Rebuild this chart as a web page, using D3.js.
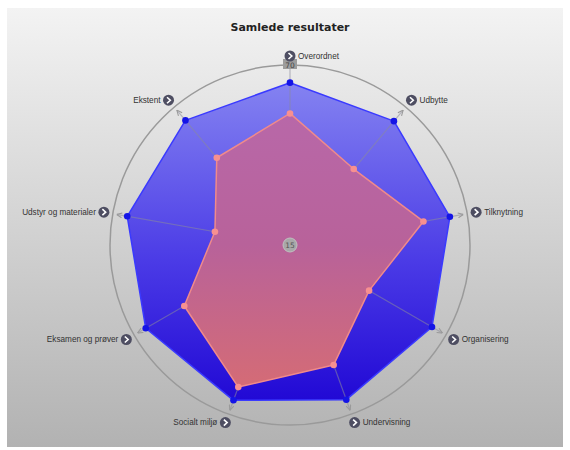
<!DOCTYPE html>
<html><head><meta charset="utf-8">
<script src="https://cdn.jsdelivr.net/npm/d3@7/dist/d3.min.js"></script>
<style>body{margin:0;background:#fff}svg{display:block}</style>
</head><body>
<svg id="c" width="570" height="450"></svg>
<script>
const categories = ["Overordnet","Udbytte","Tilknytning","Organisering","Undervisning","Socialt miljø","Eksamen og prøver","Udstyr og materialer","Ekstent"];
const seriesA = [64.6, 64.4, 64.6, 65.1, 65.3, 65.5, 65.9, 65.5, 64.7];
const seriesB = [55.2, 45.3, 56.4, 42.9, 54.0, 61.2, 52.3, 38.3, 49.8];
const scaleMin = 15, scaleMax = 70;
const title = "Samlede resultater";

const svg = d3.select("#c");
const cx = 290, cy = 245, R = 180;
const defs = svg.append("defs");
const bg = defs.append("linearGradient").attr("id","bg").attr("x1",0).attr("y1",0).attr("x2",0).attr("y2",1);
bg.append("stop").attr("offset","0%").attr("stop-color","#f3f3f3");
bg.append("stop").attr("offset","100%").attr("stop-color","#b2b2b2");
const gA = defs.append("linearGradient").attr("id","gA").attr("gradientUnits","userSpaceOnUse").attr("x1",0).attr("y1",cy-R).attr("x2",0).attr("y2",cy+R);
gA.append("stop").attr("offset","0%").attr("stop-color","#8a8af2");
gA.append("stop").attr("offset","55%").attr("stop-color","#4a3ae6");
gA.append("stop").attr("offset","100%").attr("stop-color","#1a00d2");
const gB = defs.append("linearGradient").attr("id","gB").attr("gradientUnits","userSpaceOnUse").attr("x1",0).attr("y1",cy-R).attr("x2",0).attr("y2",cy+R);
gB.append("stop").attr("offset","0%").attr("stop-color","#b86aae");
gB.append("stop").attr("offset","50%").attr("stop-color","#b8629a");
gB.append("stop").attr("offset","100%").attr("stop-color","#dc6e6c");
const mk = defs.append("marker").attr("id","arr").attr("viewBox","0 0 10 10").attr("refX",10).attr("refY",5)
  .attr("markerUnits","userSpaceOnUse").attr("markerWidth",6).attr("markerHeight",6).attr("orient","auto");
mk.append("path").attr("d","M1,1 L10,5 L1,9").attr("fill","none").attr("stroke","#9a9a9a").attr("stroke-width",1.8);

svg.append("rect").attr("x",7).attr("y",8).attr("width",556).attr("height",439).attr("fill","url(#bg)");

svg.append("text").attr("x",cx).attr("y",31).attr("text-anchor","middle")
  .attr("font-family","DejaVu Sans, sans-serif").attr("font-weight","bold").attr("font-size",11).attr("fill","#222").text(title);

const r = d3.scaleLinear().domain([scaleMin, scaleMax]).range([0, R]);
const ang = d3.scalePoint().domain(categories.map((d,i)=>i)).range([0, 2*Math.PI*(categories.length-1)/categories.length]);
const pt = (i, v) => [cx + r(v)*Math.sin(ang(i)), cy - r(v)*Math.cos(ang(i))];

svg.append("circle").attr("cx",cx).attr("cy",cy).attr("r",r(scaleMax)).attr("fill","none").attr("stroke","#9a9a9a").attr("stroke-width",1.5);

const line = d3.line();
function poly(vals, fill, stroke){
  svg.append("path").attr("d", line(vals.map((v,i)=>pt(i,v)))+"Z").attr("fill",fill).attr("stroke",stroke).attr("stroke-width",1.5).attr("stroke-linejoin","round");
}
poly(seriesA, "url(#gA)", "#3a3aff");

// axes
categories.forEach((c,i)=>{
  const [x1,y1] = pt(i, scaleMin), [x2,y2] = pt(i, scaleMax - 1.2);
  svg.append("line").attr("x1",x1).attr("y1",y1).attr("x2",x2).attr("y2",y2)
    .attr("stroke","#8a8a9a").attr("stroke-opacity",0.55).attr("stroke-width",1.2).attr("marker-end", i === 0 ? null : "url(#arr)");
});

poly(seriesB, "url(#gB)", "#f08a8a");
svg.append("g").selectAll("circle").data(seriesA).join("circle")
  .attr("cx",(v,i)=>pt(i,v)[0]).attr("cy",(v,i)=>pt(i,v)[1]).attr("r",3.3).attr("fill","#1414e6");
svg.append("g").selectAll("circle").data(seriesB).join("circle")
  .attr("cx",(v,i)=>pt(i,v)[0]).attr("cy",(v,i)=>pt(i,v)[1]).attr("r",3.3).attr("fill","#f79090");

// scale labels
svg.append("circle").attr("cx",cx).attr("cy",cy).attr("r",7).attr("fill","#a8a8a8").attr("stroke","#c0c0c0");
svg.append("text").attr("x",cx).attr("y",cy+3).attr("text-anchor","middle").attr("font-family","DejaVu Sans, sans-serif").attr("font-size",7.5).attr("fill","#555").text(scaleMin);
const [tx,ty] = pt(0, scaleMax);
svg.append("rect").attr("x",tx-7).attr("y",ty-6).attr("width",14).attr("height",10).attr("fill","#9c9c9c");
svg.append("text").attr("x",tx).attr("y",ty+2.5).attr("text-anchor","middle").attr("font-family","DejaVu Sans, sans-serif").attr("font-size",7.5).attr("fill","#444").text(scaleMax);

// category labels
const lg = svg.append("g").attr("font-family","Liberation Sans, Arial, sans-serif").attr("font-size",8.2).attr("fill","#333");
categories.forEach((c,i)=>{
  const a = ang(i);
  const rr = R + 9;
  const ix = cx + rr*Math.sin(a), iy = cy - rr*Math.cos(a);
  const left = Math.sin(a) < -0.01;
  const g = lg.append("g").attr("transform",`translate(${ix},${iy})`);
  g.append("circle").attr("r",5.5).attr("fill","#4e4e62");
  g.append("path").attr("d","M-1.5,-3 L1.8,0 L-1.5,3").attr("fill","none").attr("stroke","#fff").attr("stroke-width",1.6);
  g.append("text").attr("x", left ? -8 : 8).attr("y",2.8).attr("text-anchor", left ? "end" : "start").text(c);
});
</script>
</body></html>
